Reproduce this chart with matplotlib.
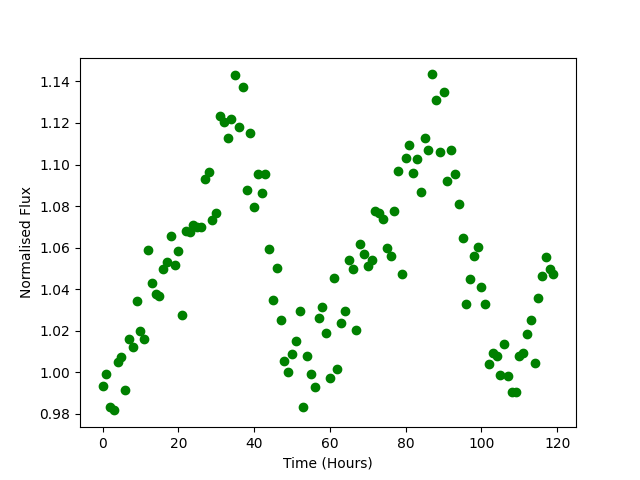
import numpy as np
import matplotlib
matplotlib.use('Agg')
import matplotlib.pyplot as plt

# hourly time stamps
time_hours = np.arange(120)

flux = [
    0.9934, 0.9990, 0.9832, 0.9816, 1.0047, 1.0074, 0.9916, 1.0159, 1.0119, 1.0343,
    1.0196, 1.0160, 1.0588, 1.0430, 1.0376, 1.0369, 1.0496, 1.0532, 1.0655, 1.0515,
    1.0582, 1.0275, 1.0679, 1.0677, 1.0709, 1.0701, 1.0701, 1.0929, 1.0963, 1.0732,
    1.0765, 1.1232, 1.1203, 1.1126, 1.1217, 1.1429, 1.1179, 1.1372, 1.0876, 1.1152,
    1.0796, 1.0955, 1.0862, 1.0955, 1.0592, 1.0348, 1.0501, 1.0252, 1.0054, 1.0002,
    1.0089, 1.0150, 1.0296, 0.9832, 1.0079, 0.9992, 0.9928, 1.0260, 1.0313, 1.0188,
    0.9972, 1.0454, 1.0015, 1.0236, 1.0294, 1.0539, 1.0496, 1.0203, 1.0616, 1.0568,
    1.0510, 1.0541, 1.0777, 1.0768, 1.0740, 1.0597, 1.0560, 1.0775, 1.0969, 1.0473,
    1.1030, 1.1093, 1.0958, 1.1027, 1.0867, 1.1126, 1.1070, 1.1434, 1.1309, 1.1059,
    1.1347, 1.0919, 1.1070, 1.0953, 1.0809, 1.0645, 1.0328, 1.0448, 1.0561, 1.0602,
    1.0409, 1.0330, 1.0039, 1.0092, 1.0079, 0.9988, 1.0135, 0.9984, 0.9907, 0.9907,
    1.0077, 1.0091, 1.0186, 1.0253, 1.0043, 1.0356, 1.0465, 1.0557, 1.0495, 1.0475,
]

fig, ax = plt.subplots(figsize=(6.4, 4.8), dpi=100)
ax.plot(time_hours, flux, 'o', color='green')
ax.set_xlabel('Time (Hours)')
ax.set_ylabel('Normalised Flux')

plt.savefig('out.png')
